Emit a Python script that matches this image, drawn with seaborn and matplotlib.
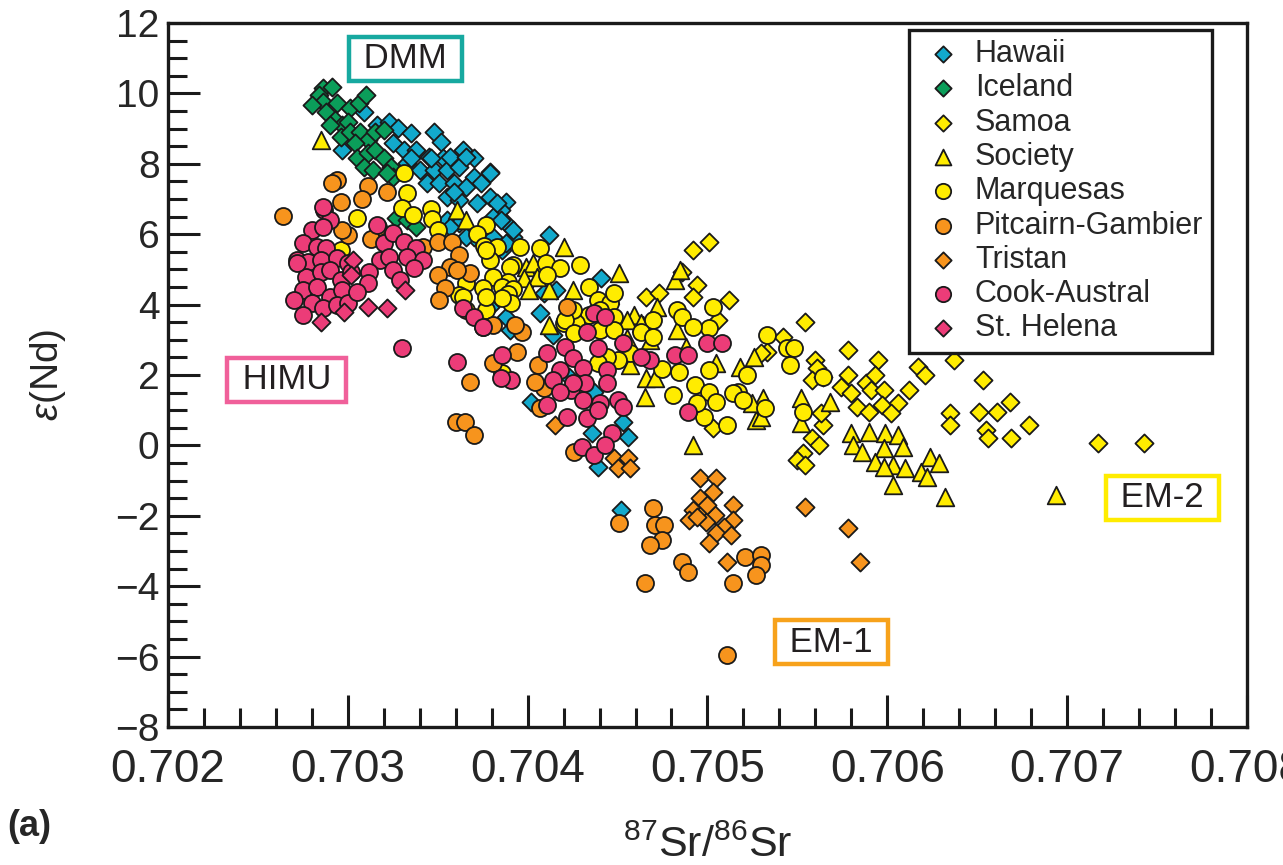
import pandas as pd
import matplotlib
matplotlib.use("Agg")
import matplotlib.pyplot as plt
import seaborn as sns
from matplotlib.ticker import MultipleLocator, FormatStrFormatter

sns.set_style("ticks")
plt.rcParams["font.family"] = ["Liberation Sans", "DejaVu Sans"]
plt.rcParams["mathtext.fontset"] = "custom"
plt.rcParams["mathtext.rm"] = "Liberation Sans"
plt.rcParams["mathtext.it"] = "Liberation Sans:italic"

# =========================
# DATA: (87Sr/86Sr, eps Nd)
# =========================
hawaii = [
    (0.70309, 9.48), (0.70316, 9.10), (0.70323, 9.20), (0.70328, 9.01), (0.70335, 8.87),
    (0.70348, 8.91), (0.70352, 8.63), (0.70364, 8.39), (0.70370, 8.16), (0.70379, 7.78),
    (0.70388, 6.92), (0.70297, 8.39), (0.70325, 8.58), (0.70331, 8.39), (0.70338, 8.39),
    (0.70345, 8.20), (0.70353, 8.16), (0.70333, 8.01), (0.70340, 7.82), (0.70348, 7.82),
    (0.70355, 7.82), (0.70362, 7.92), (0.70370, 7.63), (0.70344, 7.45), (0.70351, 7.45),
    (0.70359, 7.45), (0.70366, 7.35), (0.70374, 7.45), (0.70355, 7.07), (0.70362, 6.97),
    (0.70372, 6.88), (0.70379, 7.07), (0.70385, 6.69), (0.70381, 6.50), (0.70388, 6.31),
    (0.70355, 6.40), (0.70362, 6.31), (0.70392, 5.93), (0.70370, 5.93), (0.70381, 5.93),
    (0.70386, 5.55), (0.70335, 8.16), (0.70346, 8.16), (0.70357, 8.20), (0.70366, 8.20),
    (0.70379, 7.73), (0.70359, 7.21), (0.70383, 6.88), (0.70385, 6.40), (0.70392, 6.12),
    (0.70357, 6.21), (0.70366, 5.93), (0.70388, 5.74), (0.70412, 5.98), (0.70409, 4.32),
    (0.70441, 4.75), (0.70416, 4.41), (0.70388, 3.66), (0.70390, 3.28), (0.70379, 3.94),
    (0.70407, 3.75), (0.70414, 3.14), (0.70423, 1.95), (0.70437, 1.53), (0.70402, 1.24),
    (0.70453, 0.67), (0.70456, 0.25), (0.70436, 0.34), (0.70439, -0.60), (0.70452, -1.84),
]

iceland = [
    (0.70286, 10.15), (0.70291, 10.19), (0.70284, 9.95), (0.70286, 9.76), (0.70294, 9.72),
    (0.70301, 9.58), (0.70306, 9.72), (0.70310, 9.95), (0.70288, 9.48), (0.70293, 9.24),
    (0.70297, 9.10), (0.70300, 9.20), (0.70296, 8.77), (0.70301, 8.91), (0.70307, 8.91),
    (0.70311, 8.68), (0.70315, 8.91), (0.70320, 8.96), (0.70304, 8.58), (0.70305, 8.16),
    (0.70311, 8.30), (0.70315, 8.39), (0.70320, 8.16), (0.70309, 7.92), (0.70314, 7.82),
    (0.70324, 7.92), (0.70325, 7.63), (0.70322, 7.73), (0.70327, 6.46), (0.70333, 6.40),
    (0.70338, 6.21), (0.70280, 9.67), (0.70290, 9.10),
]

samoa = [
    (0.70554, 3.51), (0.70578, 2.71), (0.70595, 2.43), (0.70617, 2.24), (0.70621, 2.00),
    (0.70637, 2.43), (0.70653, 1.86), (0.70560, 2.43), (0.70561, 2.19), (0.70558, 1.86),
    (0.70564, 1.95), (0.70578, 2.00), (0.70574, 1.67), (0.70588, 1.76), (0.70593, 2.00),
    (0.70591, 1.57), (0.70598, 1.57), (0.70612, 1.57), (0.70580, 1.48), (0.70583, 1.10),
    (0.70590, 0.96), (0.70597, 1.15), (0.70606, 1.20), (0.70602, 0.91), (0.70635, 0.91),
    (0.70635, 0.58), (0.70651, 0.96), (0.70661, 0.96), (0.70668, 1.24), (0.70679, 0.58),
    (0.70655, 0.44), (0.70656, 0.20), (0.70669, 0.20), (0.70717, 0.06), (0.70743, 0.06),
    (0.70564, 0.58), (0.70558, 0.20), (0.70562, 0.01), (0.70553, -0.22), (0.70550, -0.41),
    (0.70554, -0.56), (0.70533, 2.66), (0.70542, 3.09), (0.70492, 5.55), (0.70501, 5.79),
    (0.70486, 4.93), (0.70494, 4.56), (0.70492, 4.22), (0.70466, 4.22), (0.70473, 4.32),
    (0.70512, 4.13), (0.70530, 2.62), (0.70563, 0.91), (0.70503, 0.50), (0.70506, 3.56),
]

society = [
    (0.70552, 1.34), (0.70568, 1.24), (0.70552, 0.63), (0.70580, 0.34), (0.70590, 0.39),
    (0.70599, 0.34), (0.70606, 0.30), (0.70581, 0.01), (0.70586, -0.18), (0.70598, -0.08),
    (0.70609, -0.04), (0.70593, -0.46), (0.70603, -0.56), (0.70610, -0.65), (0.70598, -0.60),
    (0.70624, -0.32), (0.70629, -0.51), (0.70619, -0.75), (0.70622, -0.89), (0.70603, -1.13),
    (0.70632, -1.46), (0.70694, -1.41), (0.70527, 0.72), (0.70531, 1.34), (0.70526, 2.52),
    (0.70420, 5.64), (0.70451, 4.89), (0.70425, 4.41), (0.70446, 4.27), (0.70412, 3.42),
    (0.70459, 3.70), (0.70464, 3.42), (0.70468, 2.99), (0.70457, 2.28), (0.70466, 1.91),
    (0.70465, 1.38), (0.70472, 3.94), (0.70482, 4.70), (0.70485, 4.98), (0.70483, 3.28),
    (0.70488, 2.80), (0.70505, 2.33), (0.70492, 0.01), (0.70518, 2.24), (0.70525, 1.20),
    (0.70530, 0.82), (0.70361, 6.69), (0.70366, 6.40), (0.70399, 5.08), (0.70403, 5.17),
    (0.70398, 4.75), (0.70405, 4.79), (0.70401, 4.41), (0.70412, 4.41), (0.70455, 3.56),
    (0.70463, 3.47), (0.70285, 8.68), (0.70455, 3.04), (0.70471, 1.91),
]

marquesas = [
    (0.70331, 7.74), (0.70333, 7.17), (0.70330, 6.74), (0.70336, 6.55), (0.70346, 6.72),
    (0.70347, 6.43), (0.70350, 6.12), (0.70305, 6.46), (0.70296, 5.55), (0.70377, 6.26),
    (0.70372, 6.01), (0.70376, 5.66), (0.70383, 5.64), (0.70379, 5.27), (0.70392, 5.12),
    (0.70396, 5.64), (0.70407, 5.61), (0.70410, 5.18), (0.70418, 5.04), (0.70429, 5.12),
    (0.70390, 5.07), (0.70389, 4.64), (0.70411, 4.84), (0.70381, 4.78), (0.70366, 4.61),
    (0.70362, 4.27), (0.70375, 4.47), (0.70386, 4.50), (0.70392, 4.44), (0.70389, 4.30),
    (0.70391, 4.05), (0.70377, 3.85), (0.70386, 4.19), (0.70434, 4.50), (0.70439, 4.13),
    (0.70446, 4.05), (0.70448, 3.65), (0.70434, 3.70), (0.70427, 3.48), (0.70420, 3.48),
    (0.70425, 3.85), (0.70448, 4.33), (0.70470, 3.56), (0.70440, 3.28), (0.70463, 3.22),
    (0.70470, 3.08), (0.70483, 3.85), (0.70486, 3.65), (0.70503, 3.93), (0.70501, 3.34),
    (0.70492, 3.36), (0.70475, 2.17), (0.70484, 2.09), (0.70481, 1.43), (0.70493, 1.72),
    (0.70501, 1.52), (0.70505, 1.23), (0.70498, 0.81), (0.70511, 0.58), (0.70494, 1.20),
    (0.70517, 1.52), (0.70522, 2.00), (0.70533, 3.14), (0.70544, 2.77), (0.70548, 2.77),
    (0.70546, 2.28), (0.70564, 1.94), (0.70532, 1.06), (0.70553, 0.95), (0.70457, 2.62),
    (0.70450, 2.43), (0.70444, 2.51), (0.70439, 2.34), (0.70366, 3.85), (0.70377, 4.22),
    (0.70386, 2.06), (0.70421, 3.56), (0.70426, 3.19), (0.70448, 3.28), (0.70501, 2.14),
    (0.70514, 1.49), (0.70520, 1.29), (0.70440, 3.85), (0.70364, 4.22), (0.70377, 5.55),
]

pitcairn = [
    (0.70294, 7.54), (0.70264, 6.52), (0.70296, 6.91), (0.70311, 7.37), (0.70308, 7.00),
    (0.70322, 7.20), (0.70300, 5.98), (0.70297, 6.12), (0.70317, 6.20), (0.70313, 5.86),
    (0.70342, 5.64), (0.70350, 5.78), (0.70358, 5.78), (0.70362, 5.41), (0.70357, 5.07),
    (0.70350, 4.84), (0.70354, 4.47), (0.70368, 4.90), (0.70351, 4.13), (0.70361, 4.98),
    (0.70375, 3.36), (0.70381, 2.34), (0.70368, 1.80), (0.70394, 2.65), (0.70397, 3.22),
    (0.70406, 2.28), (0.70409, 1.63), (0.70360, 0.66), (0.70365, 0.66), (0.70370, 0.30),
    (0.70404, 1.80), (0.70422, 3.93), (0.70393, 3.42), (0.70381, 3.42), (0.70407, 1.06),
    (0.70426, -0.19), (0.70451, -2.20), (0.70470, -1.78), (0.70471, -2.26), (0.70476, -2.26),
    (0.70475, -2.69), (0.70468, -2.83), (0.70486, -3.31), (0.70489, -3.60), (0.70465, -3.91),
    (0.70521, -3.17), (0.70530, -3.11), (0.70530, -3.40), (0.70527, -3.68), (0.70514, -3.91),
    (0.70511, -5.95), (0.70291, 7.45),
]

tristan = [
    (0.70415, 0.58), (0.70448, -0.36), (0.70450, -0.64), (0.70456, -0.36), (0.70457, -0.64),
    (0.70496, -0.93), (0.70505, -0.93), (0.70503, -1.32), (0.70496, -1.49), (0.70492, -1.84),
    (0.70490, -2.12), (0.70498, -1.89), (0.70504, -1.98), (0.70499, -2.18), (0.70514, -1.69),
    (0.70514, -2.12), (0.70509, -2.32), (0.70505, -2.49), (0.70513, -2.55), (0.70501, -2.77),
    (0.70511, -3.31), (0.70554, -1.75), (0.70578, -2.35), (0.70585, -3.31), (0.70494, -2.03),
    (0.70500, -1.69),
]

cook_austral = [
    (0.70287, 6.69), (0.70290, 6.40), (0.70280, 6.12), (0.70286, 6.20), (0.70275, 5.75),
    (0.70283, 5.64), (0.70288, 5.61), (0.70272, 5.27), (0.70278, 5.21), (0.70285, 5.27),
    (0.70294, 5.32), (0.70300, 5.18), (0.70277, 4.78), (0.70285, 4.93), (0.70290, 4.98),
    (0.70296, 4.70), (0.70302, 4.93), (0.70275, 4.41), (0.70283, 4.50), (0.70290, 4.22),
    (0.70297, 4.41), (0.70270, 4.13), (0.70280, 4.05), (0.70286, 3.90), (0.70294, 4.00),
    (0.70275, 3.70), (0.70300, 4.05), (0.70316, 6.26), (0.70320, 5.75), (0.70325, 6.03),
    (0.70331, 5.78), (0.70338, 5.61), (0.70318, 5.27), (0.70323, 5.35), (0.70333, 5.35),
    (0.70342, 5.27), (0.70325, 4.98), (0.70329, 4.70), (0.70337, 5.04), (0.70312, 4.93),
    (0.70311, 4.61), (0.70272, 5.18), (0.70330, 2.77), (0.70286, 6.77), (0.70361, 2.37),
    (0.70364, 3.90), (0.70370, 3.65), (0.70375, 3.36), (0.70386, 2.57), (0.70391, 1.86),
    (0.70411, 2.62), (0.70421, 2.80), (0.70418, 2.14), (0.70425, 2.48), (0.70431, 2.20),
    (0.70414, 1.86), (0.70424, 1.57), (0.70431, 1.29), (0.70439, 2.77), (0.70437, 3.76),
    (0.70443, 3.65), (0.70433, 3.22), (0.70444, 2.14), (0.70444, 1.77), (0.70440, 1.20),
    (0.70411, 1.15), (0.70422, 0.81), (0.70433, 0.78), (0.70439, 1.01), (0.70450, 1.29),
    (0.70447, 0.35), (0.70430, -0.05), (0.70437, -0.27), (0.70443, 0.01), (0.70453, 2.91),
    (0.70468, 2.43), (0.70482, 2.57), (0.70489, 2.57), (0.70500, 2.91), (0.70508, 2.91),
    (0.70489, 0.95), (0.70385, 1.91), (0.70463, 2.51), (0.70453, 1.09), (0.70432, 1.77),
    (0.70425, 1.77), (0.70418, 1.52), (0.70305, 4.36),
]

st_helena = [
    (0.70303, 5.27), (0.70311, 3.93), (0.70322, 3.90), (0.70285, 3.51), (0.70332, 4.41),
    (0.70298, 3.79), (0.70302, 4.84),
]

# name, points, marker, face colour, marker size
groups = [
    ("Hawaii", hawaii, "D", "#12A9CC", 85),
    ("Iceland", iceland, "D", "#0B9E5A", 85),
    ("Samoa", samoa, "D", "#FFEC00", 85),
    ("Society", society, "^", "#FFEC00", 160),
    ("Marquesas", marquesas, "o", "#FFEC00", 150),
    ("Pitcairn-Gambier", pitcairn, "o", "#F7941D", 150),
    ("Tristan", tristan, "D", "#F7941D", 85),
    ("Cook-Austral", cook_austral, "o", "#EC3C78", 150),
    ("St. Helena", st_helena, "D", "#EC3C78", 85),
]

# end-member labels: text, position, box colour
end_members = [
    ("DMM", 0.70332, 10.98, "#17A9A0"),
    ("HIMU", 0.70266, 1.86, "#F0609A"),
    ("EM-2", 0.70753, -1.49, "#FFEC00"),
    ("EM-1", 0.70569, -5.59, "#F7A21B"),
]

# =========================
# PLOT
# =========================
fig, ax = plt.subplots(figsize=(12.83, 8.65), dpi=100)
fig.subplots_adjust(left=0.1309, right=0.9719, top=0.9734, bottom=0.1595)

for name, pts, marker, color, size in groups:
    df = pd.DataFrame(pts, columns=["sr", "nd"])
    sns.scatterplot(data=df, x="sr", y="nd", marker=marker, color=color, s=size,
                    edgecolor="#1a1a1a", linewidth=1.3, label=name, ax=ax, legend=False)

for text, x, y, color in end_members:
    ax.text(x, y, " " + text + " ", ha="center", va="center", fontsize=25, color="#231F20",
            bbox=dict(boxstyle="square,pad=0.15", fc="white", ec=color, lw=3.2))

ax.set_xlim(0.702, 0.708)
ax.set_ylim(-8, 12)
ax.xaxis.set_major_locator(MultipleLocator(0.001))
ax.xaxis.set_minor_locator(MultipleLocator(0.0002))
ax.yaxis.set_major_locator(MultipleLocator(2))
ax.yaxis.set_minor_locator(MultipleLocator(0.5))
ax.xaxis.set_major_formatter(FormatStrFormatter("%.3f"))
ax.tick_params(which="both", direction="in", top=False, right=False, color="#1a1a1a")
ax.tick_params(which="major", length=23, width=2.2)
ax.tick_params(which="minor", length=14, width=2.2)
ax.tick_params(axis="x", labelsize=33, pad=15)
ax.tick_params(axis="y", labelsize=28, pad=6)
for sp in ax.spines.values():
    sp.set_linewidth(2.4)
    sp.set_color("#1a1a1a")

ax.set_xlabel(r"$^{87}$Sr/$^{86}$Sr", fontsize=31, labelpad=24)
ax.set_ylabel(r"$\varepsilon$(Nd)", fontsize=28)
ax.yaxis.set_label_coords(-0.093, 0.5)
fig.text(0.006, 0.045, "(a)", fontsize=26, fontweight="bold", va="center")

leg = ax.legend(loc="upper right", bbox_to_anchor=(0.968, 0.99), fontsize=22,
                frameon=True, fancybox=False, edgecolor="#1a1a1a", framealpha=1,
                borderpad=0.3, labelspacing=0.14, handletextpad=0.25, handlelength=1.6,
                markerscale=0.9, borderaxespad=0)
leg.get_frame().set_linewidth(2.4)

fig.savefig("out.png", dpi=100)
